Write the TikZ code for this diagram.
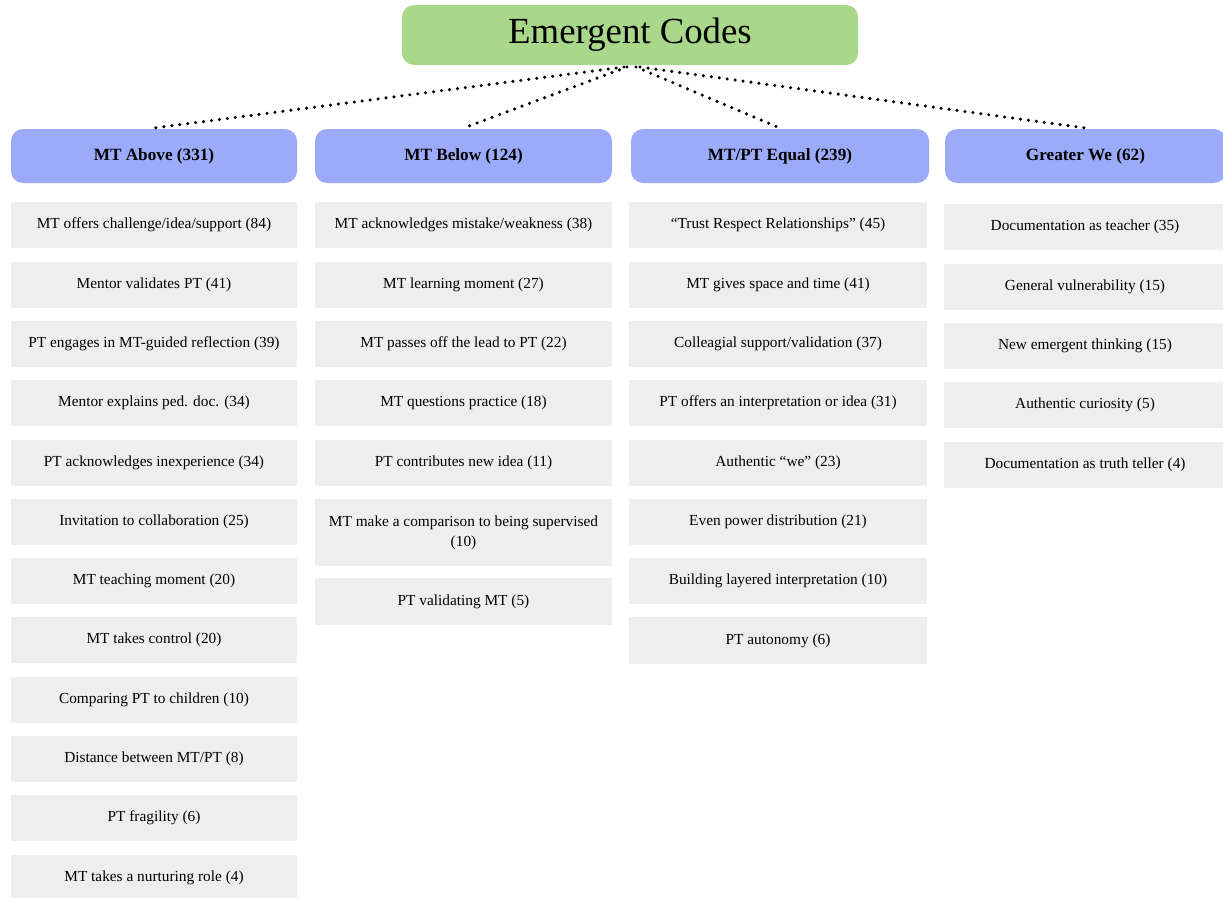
\documentclass[tikz,border=0pt]{standalone}
\usepackage{fontspec}
\usetikzlibrary{calc}
\setmainfont{Liberation Serif}
\definecolor{titlegreen}{RGB}{169,216,138}
\definecolor{headblue}{RGB}{155,171,250}
\definecolor{itemgray}{RGB}{238,238,238}
\newcommand\cell[7]{%
  \node[#1, minimum width={(#5-#3)*0.75pt}, minimum height={(#6-#4)*0.75pt}] (#2) at ({(#3+#5)/2},{(#4+#6)/2}) {#7};}
\tikzset{
  titlebox/.style={fill=titlegreen, rounded corners=9pt, inner sep=0pt, outer sep=0pt,
    font=\fontsize{27.6}{33}\selectfont},
  headbox/.style={fill=headblue, rounded corners=9pt, inner sep=0pt, outer sep=0pt,
    font=\fontsize{12.9}{15}\selectfont\bfseries},
  itembox/.style={fill=itemgray, inner sep=0pt, outer sep=0pt, align=center,
    font=\fontsize{11.5}{15}\selectfont},
  dotline/.style={line width=2.6pt, line cap=round, dash pattern=on 0pt off 6pt}
}
\begin{document}
\begin{tikzpicture}[x=0.75pt,y=-0.75pt]
\clip (0,0) rectangle (1223,897);
\fill[white] (0,0) rectangle (1223,897);
% title
\cell{titlebox}{title}{402}{5}{858}{65}{Emergent Codes}
% headers
\cell{headbox}{h1}{11}{129}{297}{183}{MT Above (331)}
\cell{headbox}{h2}{315}{129}{612}{183}{MT Below (124)}
\cell{headbox}{h3}{631}{129}{929}{183}{MT/PT Equal (239)}
\cell{headbox}{h4}{945}{129}{1226}{183}{Greater We (62)}
% column 1
\cell{itembox}{a1}{11}{202}{297}{248}{MT offers challenge/idea/support (84)}
\cell{itembox}{a2}{11}{262}{297}{308}{Mentor validates PT (41)}
\cell{itembox}{a3}{11}{321}{297}{367}{PT engages in MT-guided reflection (39)}
\cell{itembox}{a4}{11}{380}{297}{426}{Mentor explains ped. doc. (34)}
\cell{itembox}{a5}{11}{440}{297}{486}{PT acknowledges inexperience (34)}
\cell{itembox}{a6}{11}{499}{297}{545}{Invitation to collaboration (25)}
\cell{itembox}{a7}{11}{558}{297}{604}{MT teaching moment (20)}
\cell{itembox}{a8}{11}{617}{297}{663}{MT takes control (20)}
\cell{itembox}{a9}{11}{677}{297}{723}{Comparing PT to children (10)}
\cell{itembox}{a10}{11}{736}{297}{782}{Distance between MT/PT (8)}
\cell{itembox}{a11}{11}{795}{297}{841}{PT fragility (6)}
\cell{itembox}{a12}{11}{855}{297}{901}{MT takes a nurturing role (4)}
% column 2
\cell{itembox}{b1}{315}{202}{612}{248}{MT acknowledges mistake/weakness (38)}
\cell{itembox}{b2}{315}{262}{612}{308}{MT learning moment (27)}
\cell{itembox}{b3}{315}{321}{612}{367}{MT passes off the lead to PT (22)}
\cell{itembox}{b4}{315}{380}{612}{426}{MT questions practice (18)}
\cell{itembox}{b5}{315}{440}{612}{486}{PT contributes new idea (11)}
\cell{itembox}{b6}{315}{499}{612}{566}{MT make a comparison to being supervised\\(10)}
\cell{itembox}{b7}{315}{578}{612}{625}{PT validating MT (5)}
% column 3
\cell{itembox}{c1}{629}{202}{927}{248}{“Trust Respect Relationships” (45)}
\cell{itembox}{c2}{629}{262}{927}{308}{MT gives space and time (41)}
\cell{itembox}{c3}{629}{321}{927}{367}{Colleagial support/validation (37)}
\cell{itembox}{c4}{629}{380}{927}{426}{PT offers an interpretation or idea (31)}
\cell{itembox}{c5}{629}{440}{927}{486}{Authentic “we” (23)}
\cell{itembox}{c6}{629}{499}{927}{545}{Even power distribution (21)}
\cell{itembox}{c7}{629}{558}{927}{604}{Building layered interpretation (10)}
\cell{itembox}{c8}{629}{617}{927}{664}{PT autonomy (6)}
% column 4
\cell{itembox}{d1}{944}{204}{1226}{250}{Documentation as teacher (35)}
\cell{itembox}{d2}{944}{264}{1226}{310}{General vulnerability (15)}
\cell{itembox}{d3}{944}{323}{1226}{369}{New emergent thinking (15)}
\cell{itembox}{d4}{944}{382}{1226}{428}{Authentic curiosity (5)}
\cell{itembox}{d5}{944}{442}{1226}{488}{Documentation as truth teller (4)}
% connectors
\coordinate (s1) at ($(title.south)+(-6,2)$);
\coordinate (s2) at ($(title.south)+(-3,2)$);
\coordinate (s3) at ($(title.south)+(6,2)$);
\coordinate (s4) at ($(title.south)+(10,2)$);
\draw[dotline] (s1) -- ($(h1.north)+(0,-1)$);
\draw[dotline] (s2) -- ($(h2.north)+(0,-1)$);
\draw[dotline] (s3) -- ($(h3.north)+(0,-1)$);
\draw[dotline] (s4) -- ($(h4.north)+(0,-1)$);
\end{tikzpicture}
\end{document}
